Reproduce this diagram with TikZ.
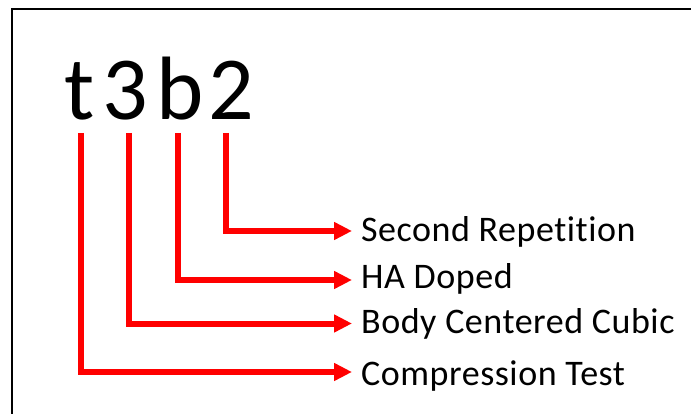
\documentclass[tikz,border=0pt]{standalone}
\usepackage{fontspec}
\setmainfont{Carlito}[Ligatures=NoCommon]
\newfontfamily\labelfont{Carlito}[Ligatures=NoCommon,LetterSpace=1.5]
\usetikzlibrary{arrows.meta}
\begin{document}
\begin{tikzpicture}[x=1pt,y=-1pt,
  code/.style={inner sep=0pt,anchor=base,font=\fontsize{90}{90}\selectfont},
  desc/.style={inner sep=0pt,anchor=base west,font=\labelfont\fontsize{36}{36}\selectfont},
  conn/.style={draw=red,line width=6pt,line join=miter,
    -{Triangle[length=18pt,width=17pt]}}]
\useasboundingbox (0,0) rectangle (691,414);
% frame: only the top and left edges fall inside the page
\draw[line width=2pt] (11.5,414) -- (11.5,9) -- (691,9);
% the code, one character at a time
\node[code] (ct) at (80,120) {t};
\node[code] (c3) at (125,120) {3};
\node[code] (cb) at (180,120) {b};
\node[code] (c2) at (231,120) {2};
% meanings
\node[desc] (l2) at (361,242) {Second Repetition};
\node[desc] (lb) at (361,288) {HA Doped};
\node[desc] (l3) at (361,333) {Body Centered Cubic};
\node[desc] (lt) at (361,385) {Compression Test};
% start points under each character, end points before each meaning
\coordinate (st) at (81,133);
\coordinate (s3) at (129,133);
\coordinate (sb) at (178,133);
\coordinate (s2) at (226,133);
\coordinate (et) at (352,372);
\coordinate (e3) at (352,323.5);
\coordinate (eb) at (352,280);
\coordinate (e2) at (352,231);
\draw[conn] (st) |- (et);
\draw[conn] (s3) |- (e3);
\draw[conn] (sb) |- (eb);
\draw[conn] (s2) |- (e2);
\end{tikzpicture}
\end{document}
